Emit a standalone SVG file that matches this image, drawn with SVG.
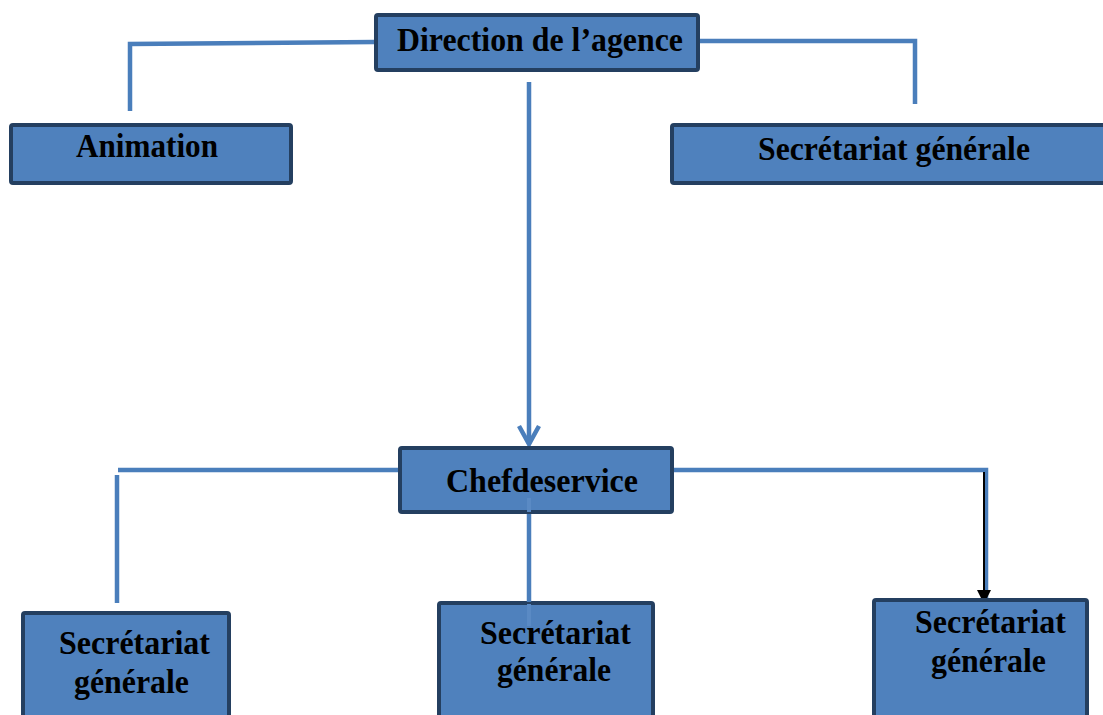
<svg xmlns="http://www.w3.org/2000/svg" width="1103" height="715" viewBox="0 0 1103 715">
<defs>
<style>
.box{fill:#4f81bd;stroke:#243f60;stroke-width:4}
.lbl{font-family:"Liberation Serif","Times New Roman",serif;font-weight:bold;font-size:33px;fill:#000}
.ln{fill:none;stroke:#4a7ebb;stroke-width:4.5}
</style>
</defs>
<rect width="1103" height="715" fill="#fff"/>
<g id="connectors">
<path class="ln" d="M375,42 L130,44 L130,111"/>
<path class="ln" d="M699,41 L915,41 L915,104"/>
<path class="ln" d="M529,82 L529,444"/>
<path class="ln" d="M519,426 L529,444 L539,426"/>
<path class="ln" d="M399,470 L118,470"/>
<path class="ln" d="M117,475 L117,603"/>
<path class="ln" d="M673,470 L986,470 L986,598"/>
<path d="M984,472 L984,598" stroke="#000" stroke-width="2" fill="none"/>
<path d="M977,590 L984,604 L991,590 z" fill="#000"/>
</g>
<g id="direction">
<rect class="box" x="376" y="15" width="322" height="55" rx="2"/>
<text class="lbl" x="397" y="51" textLength="286" lengthAdjust="spacingAndGlyphs">Direction de l’agence</text>
</g>
<g id="animation">
<rect class="box" x="11" y="125" width="280" height="58" rx="2"/>
<text class="lbl" x="76" y="157" textLength="142" lengthAdjust="spacingAndGlyphs">Animation</text>
</g>
<g id="secretariat-top">
<rect class="box" x="672" y="125" width="440" height="58" rx="2"/>
<text class="lbl" x="758" y="160" textLength="272" lengthAdjust="spacingAndGlyphs">Secrétariat générale</text>
</g>
<g id="chef">
<rect class="box" x="400" y="448" width="272" height="64" rx="2"/>
<text class="lbl" x="446" y="492" textLength="192" lengthAdjust="spacingAndGlyphs">Chefdeservice</text>
</g>
<g id="secretariat-1">
<rect class="box" x="23" y="613" width="206" height="110" rx="2"/>
<text class="lbl" x="59" y="654" textLength="151" lengthAdjust="spacingAndGlyphs">Secrétariat</text>
<text class="lbl" x="74" y="693" textLength="115" lengthAdjust="spacingAndGlyphs">générale</text>
</g>
<g id="secretariat-2">
<rect class="box" x="439" y="603" width="214" height="120" rx="2"/>
<text class="lbl" x="480" y="644" textLength="151" lengthAdjust="spacingAndGlyphs">Secrétariat</text>
<text class="lbl" x="497" y="681" textLength="114" lengthAdjust="spacingAndGlyphs">générale</text>
</g>
<g id="secretariat-3">
<rect class="box" x="874" y="600" width="213" height="123" rx="2"/>
<text class="lbl" x="915" y="633" textLength="151" lengthAdjust="spacingAndGlyphs">Secrétariat</text>
<text class="lbl" x="931" y="672" textLength="115" lengthAdjust="spacingAndGlyphs">générale</text>
</g>
<path d="M529,498 L529,512 M529,604 L529,626" stroke="#5a8ac4" stroke-width="4" fill="none"/>
<path class="ln" d="M529,514 L529,602"/>
</svg>
